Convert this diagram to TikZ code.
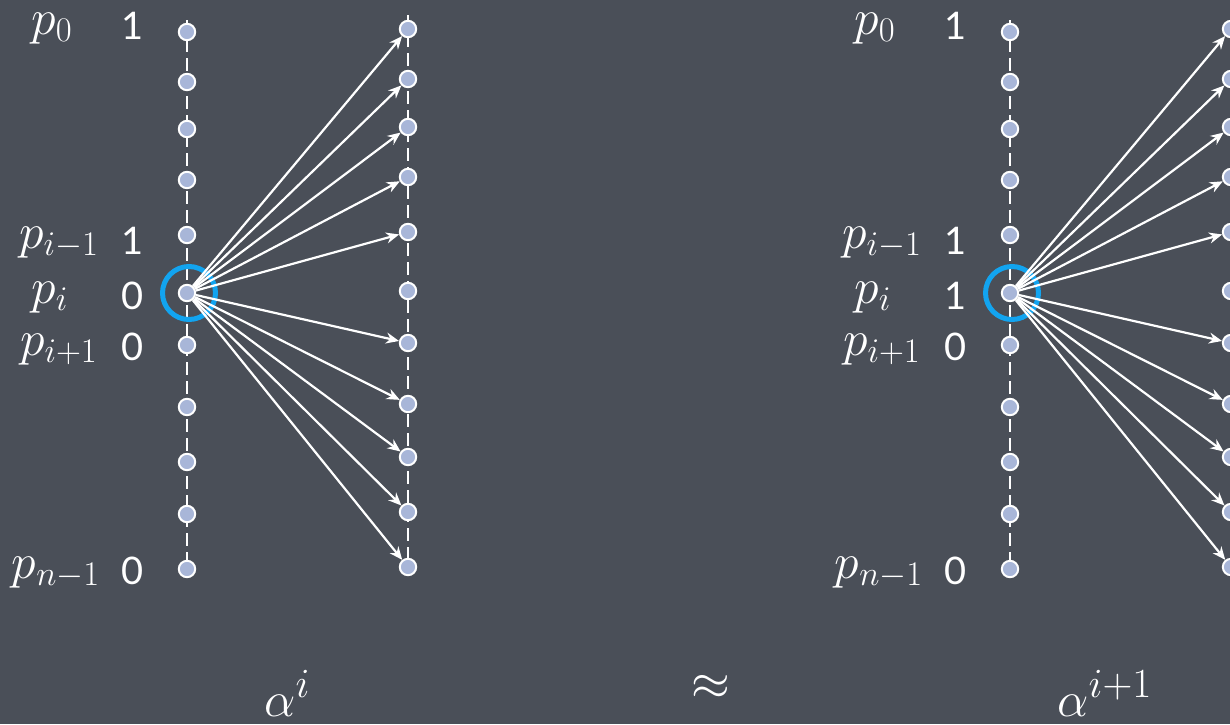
\documentclass[tikz,border=0pt]{standalone}
\usepackage{xcolor}
\usepackage{fontspec}
\newfontfamily\digitfont{Lato}
\usepackage{tikz}
\usetikzlibrary{arrows.meta,calc}

\definecolor{board}{RGB}{74,79,88}
\definecolor{siteblue}{RGB}{168,182,216}
\definecolor{ringblue}{RGB}{18,164,240}

\pgfdeclarelayer{back}
\pgfsetlayers{back,main}

\begin{document}
\begin{tikzpicture}[x=0.5pt, y=-0.5pt,
    site/.style={circle, draw=white, line width=1pt, fill=siteblue, minimum size=8.2pt, inner sep=0pt},
    ring/.style={circle, draw=ringblue, line width=2.5pt, minimum size=26.5pt, inner sep=0pt},
    wire/.style={white, line width=1pt, dash pattern=on 6.5pt off 3pt},
    arrow/.style={-{Stealth[length=6.5pt,width=5.5pt]}, white, line width=1.1pt},
    plabel/.style={anchor=base, text=white, inner sep=0pt, font=\fontsize{23}{26}\selectfont},
    bit/.style={text=white, inner sep=0pt, font=\digitfont\fontsize{19}{22}\selectfont},
    big/.style={text=white, inner sep=0pt, font=\fontsize{30}{34}\selectfont}
]

% Board
\useasboundingbox (0,0) rectangle (1230,724);
\clip (0,0) rectangle (1230,724);
\begin{pgfonlayer}{back}
\fill[board] (0,0) rectangle (1230,724);
\end{pgfonlayer}

\foreach \d/\ox/\bi in {a/0/0, b/823/1} {
  % Two columns of sites
  \foreach \y [count=\k] in {32,82,129,180,235,293,345,407,462,514,569}
    \node[site] (\d-L\k) at (\ox+187,\y) {};
  \foreach \y [count=\k] in {29,79,127,177,232,291,343,404,457,512,567}
    \node[site] (\d-R\k) at (\ox+408,\y) {};

  \begin{pgfonlayer}{back}
  \draw[wire] ([yshift=6pt]\d-L1.center) -- (\d-L11.center);
  \draw[wire] ([yshift=7pt]\d-R1.center) -- (\d-R11.center);
  \node[ring] (\d-ring) at ([xshift=1pt]\d-L6) {};
  \end{pgfonlayer}

  % Fan out of p_i
  \foreach \k in {1,...,5,7,8,...,11}
    \draw[arrow] (\d-L6) -- (\d-R\k);

  % Row labels
  \node[plabel] (\d-p0) at (\ox+52,34) {$p_0$};
  \node[plabel] (\d-p1) at (\ox+59,248) {$p_{i-1}$};
  \node[plabel] (\d-p2) at (\ox+50,303) {$p_i$};
  \node[plabel] (\d-p3) at (\ox+59,355) {$p_{i+1}$};
  \node[plabel] (\d-p4) at (\ox+56,578) {$p_{n-1}$};

  \node[bit] (\d-b0) at (\ox+133,26) {1};
  \node[bit] (\d-b1) at (\ox+133,241) {1};
  \node[bit] (\d-b2) at (\ox+133,296) {\bi};
  \node[bit] (\d-b3) at (\ox+133,347) {0};
  \node[bit] (\d-b4) at (\ox+133,571) {0};
}

% Bottom line
\node[big, anchor=base west] (alpha-i) at (264,716) {$\alpha^i$};
\node[big] (approx) at (711,687) {$\approx$};
\node[big, anchor=base west] (alpha-ii) at (1057,716) {$\alpha^{i+1}$};

\end{tikzpicture}
\end{document}
